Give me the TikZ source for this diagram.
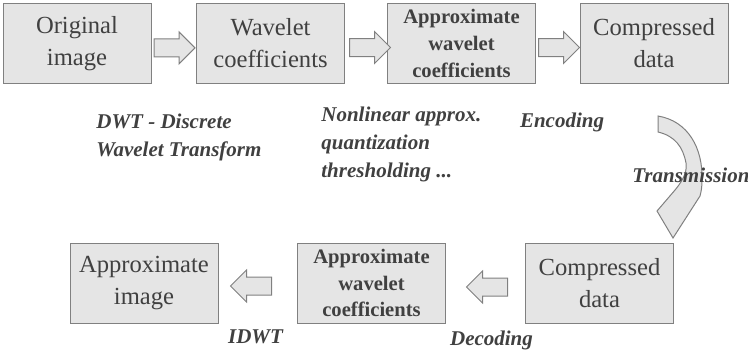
\documentclass[tikz,border=0pt]{standalone}
\usepackage{fontspec}
\setmainfont{Liberation Serif}
\usetikzlibrary{positioning,shapes.arrows}
\definecolor{boxfill}{gray}{0.9}
\definecolor{boxline}{gray}{0.5}
\definecolor{inkgray}{gray}{0.25}
\tikzset{
  stagebox/.style={
    rectangle, draw=boxline, fill=boxfill, line width=0.5pt,
    minimum width=74pt, minimum height=40pt,
    align=center, text=inkgray, inner sep=1pt,
    font=\fontsize{12.3}{16}\selectfont
  },
  boldbox/.style={stagebox, font=\fontsize{10.3}{13.3}\selectfont\bfseries},
  blockarrow/.style={
    single arrow, draw=boxline, fill=boxfill, line width=0.5pt,
    minimum height=20.5pt, inner xsep=0pt, inner ysep=4.25pt,
    single arrow head extend=3.5pt
  },
  backarrow/.style={blockarrow, shape border rotate=180},
  steplabel/.style={
    font=\fontsize{10.5}{14.2}\selectfont\bfseries\itshape,
    text=inkgray, align=left, inner sep=0pt
  },
  bendarrow/.style={draw=boxline, fill=boxfill, line width=0.5pt}
}

\begin{document}
% units are pixels of the 748x355 layout, y grows downwards
\begin{tikzpicture}[x=0.5pt, y=-0.5pt]
  \useasboundingbox (0,0) rectangle (748,355);

  % ==== ENCODER (top row) ====
  \node[stagebox] (orig)  at (77, 43.5)    {Original\\image};
  \node[stagebox] (wcoef) at (270.5, 43.5) {Wavelet\\coefficients};
  \node[boldbox]  (acoef) at (461.5, 43.5) {Approximate\\wavelet\\coefficients};
  \node[stagebox] (cdata) at (654, 43.5)   {Compressed\\data};
  \node[blockarrow, right=1pt of orig, yshift=-2.2pt]  (a1) {};
  \node[blockarrow, right=2pt of wcoef, yshift=-2pt]   (a2) {};
  \node[blockarrow, right=1pt of acoef, yshift=-2pt]   (a3) {};

  \node[steplabel, anchor=west] (dwt) at (96, 137.5)
    {DWT - Discrete\\Wavelet Transform};
  \node[steplabel, anchor=west] (nla) at (321, 144.5)
    {Nonlinear approx.\\quantization\\thresholding ...};
  \node[steplabel] (enc) at (562, 122) {Encoding};

  % ==== TRANSMISSION (curved block arrow) ====
  \draw[bendarrow] (658,116) .. controls (688,121) and (703,148) .. (702,180)
    .. controls (702,188) and (701,192) .. (700,196)
    -- (673,238) -- (657,211) -- (675,190)
    .. controls (685,178) and (687,170) .. (686,163)
    .. controls (683,147) and (675,136) .. (658,132) -- cycle;
  \node[steplabel, anchor=west] (trans) at (632, 175) {Transmission};

  % ==== DECODER (bottom row) ====
  \node[stagebox] (aimg)   at (144, 283)   {Approximate\\image};
  \node[boldbox]  (acoef2) at (371.5, 283) {Approximate\\wavelet\\coefficients};
  \node[stagebox] (cdata2) at (599.5, 283) {Compressed\\data};
  \node[backarrow, left=12.5pt of acoef2, yshift=-1.5pt] (a4) {};
  \node[backarrow, left=8.5pt of cdata2, yshift=-2pt]    (a5) {};

  \node[steplabel, below=17pt of a4] (idwt) {IDWT};
  \node[steplabel, below=17pt of a5] (dec)  {Decoding};
\end{tikzpicture}
\end{document}
